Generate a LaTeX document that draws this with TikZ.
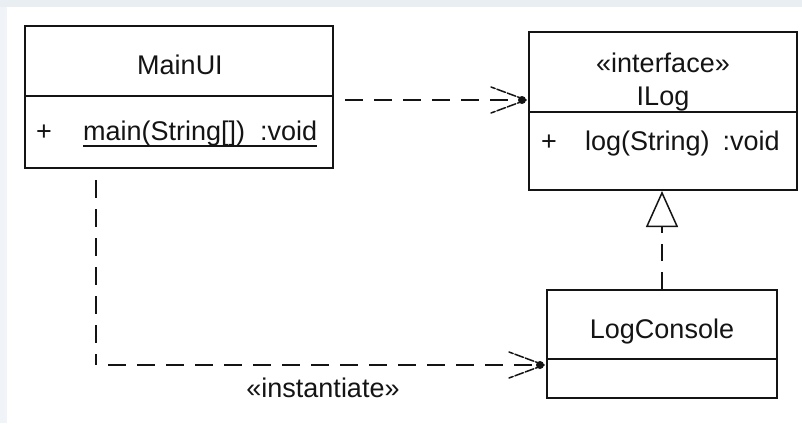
\documentclass[tikz,border=0pt]{standalone}
\usepackage{fontspec}
\setmainfont{Liberation Sans}
\usetikzlibrary{arrows.meta,calc}
\definecolor{bandtop}{RGB}{233,238,243}
\definecolor{bandleft}{RGB}{240,244,248}
\definecolor{ink}{RGB}{20,20,20}
\begin{document}
\begin{tikzpicture}[x=1pt,y=-1pt,
  every node/.style={font=\fontsize{27}{30}\selectfont, text=ink, inner sep=0pt},
  umlbox/.style={draw=ink, line width=2pt, rectangle, minimum width=#1},
  divider/.style={draw=ink, line width=2pt},
  dep/.style={draw=ink, line width=2pt, dash pattern=on 18pt off 11pt},
  wing/.style={draw=ink, line width=1.5pt, dash pattern=on 9pt off 2pt, line cap=round},
  realize/.style={draw=ink, line width=2pt, dash pattern=on 17pt off 11pt,
    -{Triangle[open, length=36pt, width=32pt, line width=1.5pt, fill=white]}}
]
\useasboundingbox (0,0) rectangle (802,423);
\fill[white] (0,0) rectangle (802,423);
\fill[bandtop] (0,0) rectangle (802,7);
\fill[bandleft] (0,7) rectangle (7,423);

% MainUI
\node[umlbox=308pt, minimum height=142pt] (mainui) at (179,97) {};
\draw[divider] (25,96) -- (333,96);
\node[anchor=base] (mainuiname) at (180,74) {MainUI};
\node[anchor=base] (mainplus) at (44,140) {+};
\node[anchor=base west] (mainop) at (83,140) {main(String[])\kern 15pt:void};
\draw[ink, line width=1.6pt] ([yshift=-6pt]mainop.base west) -- ([yshift=-6pt]mainop.base east);

% ILog
\node[umlbox=268pt, minimum height=158pt] (ilog) at (663,111) {};
\draw[divider] (529,112) -- (797,112);
\node[anchor=base] (ilogster) at (663,72) {«interface»};
\node[anchor=base] (ilogname) at (663,105) {ILog};
\node[anchor=base] (ilogplus) at (549,150) {+};
\node[anchor=base west] (ilogop) at (585,150) {log(String)\kern 13pt:void};

% LogConsole
\node[umlbox=230pt, minimum height=108pt] (logc) at (662,344) {};
\draw[divider] (547,359) -- (777,359);
\node[anchor=base] (logcname) at (662,338) {LogConsole};

% MainUI -> ILog dependency
\coordinate (d1) at (345,100);
\coordinate (d1end) at (ilog.west |- d1);
\draw[dep] (d1) -- ([xshift=-4pt]d1end);
\draw[wing] ([xshift=-2pt]d1end) -- ++(-35,-13);
\draw[wing] ([xshift=-2pt]d1end) -- ++(-35,13);
\fill[ink] ([xshift=-6pt]d1end) circle (4pt);

% Realization LogConsole -> ILog
\draw[realize] (logc.north) -- (ilog.south -| logc.north);

% instantiate
\coordinate (i1) at (96,180);
\coordinate (i2) at (96,365);
\coordinate (i1end) at (logc.west |- i2);
\draw[dep] (i1) -- (i2);
\draw[dep] (108,365) -- ([xshift=-4pt]i1end);
\draw[wing] ([xshift=-2pt]i1end) -- ++(-35,-13);
\draw[wing] ([xshift=-2pt]i1end) -- ++(-35,13);
\fill[ink] ([xshift=-6pt]i1end) circle (4pt);
\node[anchor=base] (instlabel) at (323,397) {«instantiate»};
\end{tikzpicture}
\end{document}
